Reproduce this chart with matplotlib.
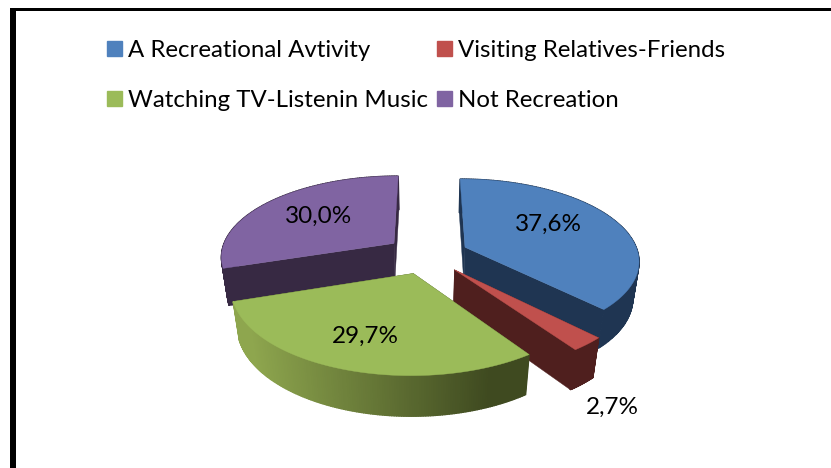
import numpy as np
import matplotlib
matplotlib.use('Agg')
import matplotlib.pyplot as plt
from matplotlib.patches import Patch
from matplotlib.colors import to_rgb

plt.rcParams['font.family'] = ['Lato', 'DejaVu Sans']

# chart data
categories = ['A Recreational Avtivity', 'Visiting Relatives-Friends',
              'Watching TV-Listenin Music', 'Not Recreation']
values = [37.6, 2.7, 29.7, 30.0]
top_colors = ['#4f81bd', '#c0504d', '#9bbb59', '#8064a2']
side_colors = ['#1f3552', '#4f1f1e', '#3f4a20', '#372943']

# pie geometry in image pixels
CX, CY = 427.0, 254.5
RX, RY = 173.5, 80.5
PERSP = 0.15
DROP = 0.03
DEPTH = 38.0
EXPLODE = 0.24

W, H = 831, 468


def project(X, Y, bottom=False):
    if bottom:
        s = 1.0 / (1.0 + PERSP * Y + DROP)
        return CX + RX * X * s, CY - RY * Y * s + DEPTH * s
    s = 1.0 / (1.0 + PERSP * Y)
    return CX + RX * X * s, CY - RY * Y * s


def quad(ax, X, Y, color, zorder, lw=0.3):
    """Side face hanging below the top edge X, Y."""
    x1, y1 = project(X, Y)
    x2, y2 = project(X, Y, bottom=True)
    ax.fill(np.r_[x1, x2[::-1]], np.r_[y1, y2[::-1]], color=color, lw=lw, zorder=zorder)


def side_color(name, x):
    if name == 2:
        # green rim fades from light on the left to dark on the right
        light, dark = np.array(to_rgb('#8ea64e')), np.array(to_rgb('#3f4a20'))
        t = np.clip((x - 250) / 240.0, 0, 1)
        return light * (1 - t) + dark * t
    return side_colors[name]


def draw_slice(ax, i, start, stop, zorder):
    mid = np.radians((start + stop) / 2)
    ox, oy = EXPLODE * np.sin(mid), EXPLODE * np.cos(mid)
    th = np.radians(np.linspace(start, stop, 160))
    X = ox + np.sin(th)
    Y = oy + np.cos(th)

    # straight cut faces
    for k in (0, -1):
        quad(ax, np.array([ox, X[k]]), np.array([oy, Y[k]]), side_colors[i], zorder)

    # outer rim, split in short pieces so the green one can fade
    for j in range(len(th) - 1):
        xm = project(X[j], Y[j])[0]
        quad(ax, X[j:j + 2], Y[j:j + 2], side_color(i, xm), zorder + 0.1, lw=1.0)

    x, y = project(np.r_[ox, X], np.r_[oy, Y])
    ax.fill(x, y, color=top_colors[i], lw=0.3, zorder=zorder + 0.2)


def main():
    fig = plt.figure(figsize=(W / 100, H / 100), dpi=100)
    ax = fig.add_axes([0, 0, 1, 1])
    ax.set_xlim(0, W)
    ax.set_ylim(H, 0)
    ax.axis('off')

    # black frame, only top and left are inside the crop
    ax.fill([10, W, W, 10], [8, 8, 11, 11], color='black', lw=0)
    ax.fill([10, 15.5, 15.5, 10], [8, 8, H, H], color='black', lw=0)

    angles = np.r_[0, np.cumsum(values)] / np.sum(values) * 360
    for z, i in enumerate([3, 0, 1, 2]):
        draw_slice(ax, i, angles[i], angles[i + 1], 2 + z)

    label_pos = [(548, 224), (612, 407), (365, 336), (319, 216)]
    for v, (lx, ly) in zip(values, label_pos):
        ax.text(lx, ly, f'{v:.1f}%'.replace('.', ','), ha='center', va='center',
                fontsize=17.5, color='black', zorder=10)

    # legend fills by column, so swap to read row by row
    handles = [Patch(color=top_colors[i], label=categories[i]) for i in (0, 2, 1, 3)]
    ax.legend(handles=handles, ncol=2, loc='upper left', bbox_to_anchor=(107 / W, 1 - 40 / H),
              frameon=False, fontsize=17.3, handlelength=0.62, handleheight=0.62,
              handletextpad=0.25, columnspacing=0.37, labelspacing=1.2, borderpad=0, borderaxespad=0)

    fig.savefig('out.png', dpi=100)
    plt.close(fig)


if __name__ == '__main__':
    main()
